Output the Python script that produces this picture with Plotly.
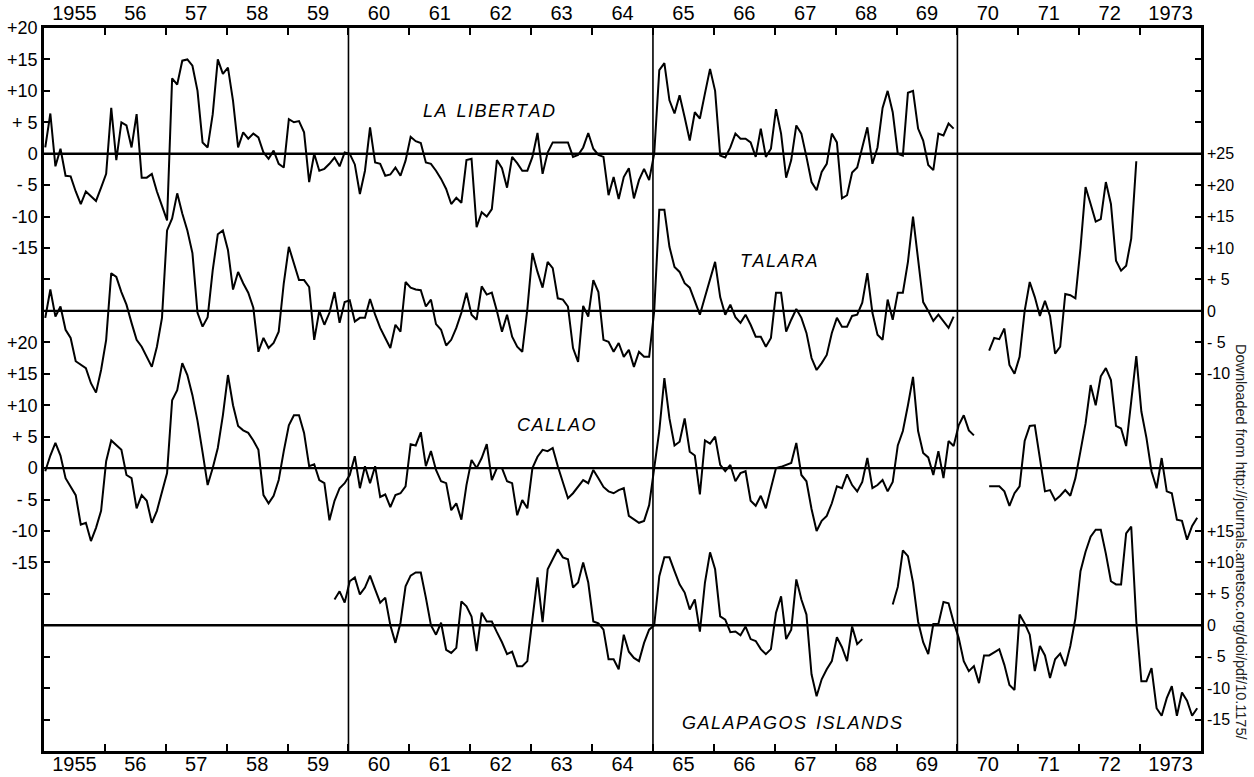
import plotly.graph_objects as go

# ---------------- data (monthly anomalies) ----------------
years = list(range(1955, 1974))
year_labels = ["1955", "56", "57", "58", "59", "60", "61", "62", "63", "64",
               "65", "66", "67", "68", "69", "70", "71", "72", "1973"]

# La Libertad, Jan 1955 - Dec 1969
la_libertad_start = (1955, 1)
la_libertad = [
    1, 6.4, -2, 0.8, -3.5, -3.6, -6, -8, -6, -6.8, -7.5, -5.4,            # 1955
    -3.2, 7.3, -1, 5, 4.5, 1, 6.3, -3.8, -3.8, -3.2, -6, -8.3,            # 1956
    -10.6, 12, 11, 14.8, 15, 14, 10, 1.8, 1, 6.3, 15, 12.7,               # 1957
    13.7, 8.4, 1, 3.4, 2.4, 3.2, 2.6, 0.2, -0.8, 0.5, -1.6, -2.2,         # 1958
    5.5, 5, 5.2, 3.4, -4.5, 0, -2.7, -2.4, -1.6, -0.6, -2, 0.2,           # 1959
    0, -1.7, -6.4, -2.7, 4.2, -1.4, -1.6, -3.5, -3.3, -2.2, -3.5, -1.1,   # 1960
    2.7, 2, 1.7, -1.4, -1.6, -2.7, -4, -5.6, -8, -7, -7.8, -1,            # 1961
    -0.8, -11.7, -9.3, -10, -8.8, -1, -2.3, -5.4, -0.5, -1.5, -2.7, -2.7, # 1962
    -0.5, 3.3, -3.2, 0.2, 1.8, 1.8, 1.8, 1.8, -0.5, -0.2, 1, 3.3,         # 1963
    0.8, -0.2, -0.5, -6.6, -3.7, -7.2, -3.7, -2.3, -7.1, -4.2, -2.4, -4.2,# 1964
    0, 13.3, 14.4, 8.5, 6.4, 9.3, 5.8, 2.1, 6.6, 5.6, 9.6, 13.5,          # 1965
    10, -0.3, -0.6, 1, 3.2, 2.4, 2.4, 1.8, -0.5, 4, -0.5, 0.8,            # 1966
    7.1, 3.2, -3.8, -1, 4.5, 3.2, -0.5, -4.5, -5.8, -2.9, -1.6, 3.2,      # 1967
    1.8, -7.1, -6.6, -3, -2.2, 1, 4.2, -1.6, 1, 7.3, 10, 6.6,             # 1968
    0, -0.3, 9.7, 10, 4, 2.1, -1.8, -2.6, 3.2, 2.9, 4.8, 4,               # 1969
]

# Talara, Jan 1955 - Dec 1969, and Jul 1970 - Dec 1972
talara_start = (1955, 1)
talara = [
    -1.1, 3.4, -0.9, 0.7, -3, -4.3, -8, -8.6, -9.1, -11.5, -13, -9.4,     # 1955
    -4.6, 6, 5.4, 3, 1, -1.9, -4.6, -5.7, -7.3, -8.9, -5.7, -1.1,         # 1956
    12.8, 14.7, 18.7, 15.5, 12.8, 9.2, -0.3, -2.5, -1, 6.5, 12.2, 12.8,   # 1957
    9.7, 3.4, 6.2, 4.4, 2.9, 0.5, -6.5, -4.3, -5.9, -5.1, -3.3, 4.4,      # 1958
    10.2, 7.6, 4.9, 4.9, 3.8, -4.6, 0, -2.2, -0.3, 3, -1.9, 1.4,          # 1959
    1.7, -1.7, -1.1, -1.1, 1.9, -0.6, -2.7, -4.3, -5.9, -2.2, -3.3, 4.6,  # 1960
    3.7, 3.4, 3.3, 0.7, 1.8, -2.1, -3, -5.5, -4.6, -2.7, -0.3, 2.9,       # 1961
    -0.6, -1.4, 3.9, 2.6, 2.9, 0, -3.3, -0.6, -4.1, -5.7, -6.5, 0.3,      # 1962
    9.2, 6.2, 3.7, 7.8, 6.8, 2, 1.8, 0.7, -5.9, -8.1, 0.8, -0.9,          # 1963
    4.9, 3, -4.6, -4.9, -6.5, -5.1, -7.3, -6.2, -8.9, -6.5, -7.3, -7.3,   # 1964
    0, 16.1, 16.1, 10.2, 7, 6.2, 4.4, 3.7, 1.5, -0.6, 2.2, 5,             # 1965
    7.8, 2.2, -0.6, 1, -1, -1.9, -0.6, -2.2, -4.1, -4.1, -5.7, -4.3,      # 1966
    2.9, 2.9, -3.3, -1.4, 0.3, -1.1, -3.5, -7.5, -9.4, -8.3, -7, -3.5,    # 1967
    -1.1, -2.5, -2.5, -0.8, -0.6, 1.3, 6, -0.3, -3.8, -4.6, 1.8, -1.4,    # 1968
    2.9, 2.9, 7.8, 15, 8, 1.4, 0, -1.6, -0.6, -1.6, -2.7, -0.9,           # 1969
]
talara_late_start = (1970, 7)
talara_late = [
    -6.3, -4.3, -4.5, -2.8, -8.6, -10,                                    # 1970
    -7.3, 0, 4.6, 2.2, -0.8, 1.6, -0.8, -6.8, -5.7, 2.7, 2.5, 2,          # 1971
    10, 19.7, 17, 14.2, 14.6, 20.5, 17, 8, 6.4, 7.2, 11.5, 23.8,          # 1972
]

# Callao, Jan 1955 - Apr 1970, and Jul 1970 - Dec 1973
callao_start = (1955, 1)
callao = [
    -0.5, 2, 4, 2, -1.6, -2.9, -4.3, -9, -8.7, -11.6, -9.5, -6.8,         # 1955
    1.1, 4.4, 3.6, 2.9, -1.1, -1.6, -6.4, -4.3, -5.2, -8.7, -6.8, -4,     # 1956
    -0.8, 10.8, 12.4, 16.7, 14.8, 11.6, 7.5, 2.5, -2.7, 0, 3.2, 8.4,      # 1957
    14.8, 10, 6.7, 6, 5.6, 4.4, 2.9, -4.3, -5.6, -4.4, -1.9, 2.7,         # 1958
    6.8, 8.4, 8.4, 5.6, 0.3, 0.6, -1.9, -2.4, -8.3, -5.2, -3.2, -2.4,     # 1959
    -1.1, 1.9, -3.2, 0.3, -2.4, 0.3, -4.6, -4.2, -6.2, -4.3, -4, -2.9,    # 1960
    3.8, 3.6, 5.7, 0.3, 2.7, -0.3, -2.1, -2.4, -6.7, -5.6, -8.2, -2.7,    # 1961
    1.3, 0, 1.6, 3.8, -1.9, 0, 0, -2.1, -2.4, -7.5, -5.1, -6.4,           # 1962
    0, 1.8, 2.9, 2.7, 3.2, 0.3, -2.1, -4.8, -4, -2.9, -1.9, -2.4,         # 1963
    -0.3, -1.6, -3, -3.7, -4, -3.5, -3.2, -7.6, -8.2, -8.7, -8.4, -5.9,   # 1964
    0, 5.9, 14.3, 7.9, 3.6, 4.2, 7.9, 2.6, 2, -4.2, 4.4, 3.9,             # 1965
    5, 0.5, -0.5, 0.5, -2.1, -0.8, -0.5, -5.2, -6, -4.4, -6.4, -3.2,      # 1966
    0, 0.2, 0.5, 0.8, 4, -1.1, -2.1, -6.5, -10, -8.4, -7.6, -5.6,         # 1967
    -2.9, -3.2, -1, -2.7, -3.7, -2.2, 1.6, -3.2, -2.7, -1.9, -3.7, -2.2,  # 1968
    3.6, 5.9, 10, 14.5, 5.9, 2.4, 1.7, -1.1, 2.7, -1.6, 4.3, 3.5,         # 1969
    6.8, 8.4, 6, 5.2,                                                     # 1970
]
callao_late_start = (1970, 7)
callao_late = [
    -2.9, -2.9, -2.9, -3.7, -6, -4,                                       # 1970
    -2.9, 4.3, 6.7, 6.8, 1.6, -3.7, -3.5, -5.1, -4.4, -3.5, -4.4, -1.6,   # 1971
    2.7, 7.1, 13.2, 10, 14.6, 15.9, 14, 6.7, 6.3, 3.5, 10.6, 17.8,        # 1972
    9, 4.8, -0.5, -3.2, 1.6, -3.7, -4, -8.2, -8.4, -11.4, -9.2, -7.9,     # 1973
]

# Galapagos Islands, Oct 1959 - Jun 1968, and Dec 1968 - Dec 1973
galapagos_start = (1959, 10)
galapagos = [
    4.1, 5.4, 3.6,                                                        # 1959
    7, 7.6, 4.9, 6, 7.9, 5.7, 3.6, 4.4, 0, -2.8, 0.4, 6.2,                # 1960
    7.9, 8.4, 8.4, 4.4, 0, -1.5, 0.4, -3.9, -4.4, -3.6, 3.8, 3,           # 1961
    1.4, -4.1, 2, 0.6, 0.6, -1.1, -2.7, -4.6, -4.2, -6.5, -6.5, -5.7,     # 1962
    0.5, 7.6, 0.5, 8.9, 10.5, 12.1, 10.8, 10.5, 6, 6.8, 10, 6.8,          # 1963
    0.6, 0.3, -0.7, -5.4, -5.4, -7, -1.5, -4.2, -5.2, -5.7, -2.8, -0.7,   # 1964
    0, 7.8, 10.8, 10.8, 8.6, 6.5, 5.2, 2.5, 4.1, -1, 6.8, 11.6,           # 1965
    8.9, 1.4, 0.9, -1.1, -1, -1.6, -0.2, -2.2, -2.5, -3.8, -4.6, -3.8,    # 1966
    2, 4.6, -2.2, -0.7, 7.3, 4.1, 1.7, -7.8, -11.3, -8.6, -7, -5.7,       # 1967
    -1.9, -3.5, -5.7, -0.2, -3, -2.2,                                     # 1968
]
galapagos_late_start = (1968, 12)
galapagos_late = [
    3.3,                                                                  # 1968
    6.1, 11.9, 11, 6.8, 0.6, -2.7, -4.6, 0.2, 0.2, 3.7, 3.5, 0.5,         # 1969
    -2, -5.7, -7.3, -6.5, -9.2, -4.8, -4.8, -4.3, -3.8, -6.3, -9.5, -10.3,# 1970
    1.7, 0.3, -1.5, -7.3, -3.3, -4.8, -8.4, -5.4, -4.5, -6.5, -3.3, 1.1,  # 1971
    8.6, 11.7, 14.1, 15.2, 15.2, 11.4, 7, 6.5, 6.5, 14.6, 15.7, 0.6,      # 1972
    -8.9, -8.9, -6.8, -13.2, -14.4, -11.6, -9.7, -14.4, -10.7, -12, -14.4, -13.2,  # 1973
]

station_names = ["LA LIBERTAD", "TALARA", "CALLAO", "GALAPAGOS ISLANDS"]

# left-axis tick labels (value on shared stacked axis -> label)
left_ticks = {20: "+20", 15: "+15", 10: "+10", 5: "+ 5", 0: "0", -5: "- 5", -10: "-10", -15: "-15",
              -30: "+20", -35: "+15", -40: "+10", -45: "+ 5", -50: "0", -55: "- 5", -60: "-10", -65: "-15"}
right_ticks = {0: "+25", -5: "+20", -10: "+15", -15: "+10", -20: "+ 5", -25: "0", -30: "- 5", -35: "-10",
               -60: "+15", -65: "+10", -70: "+ 5", -75: "0", -80: "- 5", -85: "-10", -90: "-15"}

# ---------------- layout / styling ----------------
offsets = {"LA LIBERTAD": 0, "TALARA": -25, "CALLAO": -50, "GALAPAGOS ISLANDS": -75}
Y_RANGE = [-95, 20]
X_RANGE = [1955, 1974]
FONT = "Liberation Sans"


def month_x(start, n):
    y0, m0 = start
    return [y0 + (m0 - 1 + i + 0.25) / 12.0 for i in range(n)]


segments = [
    ("LA LIBERTAD", la_libertad_start, la_libertad),
    ("TALARA", talara_start, talara),
    ("TALARA", talara_late_start, talara_late),
    ("CALLAO", callao_start, callao),
    ("CALLAO", callao_late_start, callao_late),
    ("GALAPAGOS ISLANDS", galapagos_start, galapagos),
    ("GALAPAGOS ISLANDS", galapagos_late_start, galapagos_late),
]

fig = go.Figure()
for name, start, vals in segments:
    off = offsets[name]
    fig.add_trace(go.Scatter(
        x=month_x(start, len(vals)), y=[v + off for v in vals],
        mode="lines", line=dict(color="black", width=2),
        hoverinfo="skip", showlegend=False, name=name))

# invisible traces on the secondary axes so they render
for xa, ya in [("x2", "y2"), ("x3", "y"), ("x4", "y")]:
    fig.add_trace(go.Scatter(x=[X_RANGE[0]], y=[Y_RANGE[0]], xaxis=xa, yaxis=ya,
                             mode="markers", marker=dict(opacity=0), hoverinfo="skip",
                             showlegend=False))

# zero lines of each station and the 5-year dividers
for name in station_names:
    fig.add_shape(type="line", xref="paper", yref="y", x0=0, x1=1,
                  y0=offsets[name], y1=offsets[name], line=dict(color="black", width=2.4))
for yr in [1960, 1965, 1970]:
    fig.add_shape(type="line", xref="x", yref="paper", x0=yr, x1=yr, y0=0, y1=1,
                  line=dict(color="black", width=1.6))

# station labels
label_pos = {"LA LIBERTAD": (1962.3, 6.8), "TALARA": (1967.07, -17.0),
             "CALLAO": (1963.42, -43.2), "GALAPAGOS ISLANDS": (1967.28, -90.5)}
for name in station_names:
    lx, ly = label_pos[name]
    fig.add_annotation(x=lx, y=ly, xref="x", yref="y", showarrow=False,
                       text="<i>" + "&#8202;".join(list(name)).replace("&#8202; &#8202;", "&nbsp;&nbsp;") + "</i>",
                       font=dict(family=FONT, size=18, color="black"))

# scan watermark along the right edge (pixel x≈1241, starting at y≈342)
fig.add_annotation(xref="paper", yref="paper", x=(1241 - 44) / 1157, y=(751 - 342) / 723,
                   xanchor="center", yanchor="top",
                   text="Downloaded from http://journals.ametsoc.org/doi/pdf/10.1175/",
                   textangle=90, showarrow=False,
                   font=dict(family="Liberation Sans", size=14.5, color="#222222"))

xtickvals = [y + 0.5 for y in years]
boundaries = list(range(1956, 1974))
left_vals = list(range(-90, 21, 5))
right_vals = list(range(-90, 16, 5))

label_axis = dict(range=X_RANGE, tickmode="array", tickvals=xtickvals, ticktext=year_labels,
                  ticks="", showgrid=False, zeroline=False, showline=True, linecolor="black",
                  linewidth=2.5, automargin=False,
                  tickfont=dict(family=FONT, size=20, color="black"))
tick_axis = dict(range=X_RANGE, tickmode="array", tickvals=boundaries, ticks="inside",
                 ticklen=7, tickwidth=1.6, tickcolor="black", showticklabels=False,
                 showgrid=False, zeroline=False, showline=False, automargin=False,
                 overlaying="x", anchor="y")

fig.update_layout(
    width=1254, height=777,
    margin=dict(l=44, r=53, t=28, b=26, autoexpand=False),
    paper_bgcolor="white", plot_bgcolor="white", showlegend=False,
    xaxis=dict(label_axis, ticklabelstandoff=-7),
    xaxis2=dict(label_axis, overlaying="x", side="top", anchor="y", ticklabelstandoff=-3),
    xaxis3=dict(tick_axis, side="bottom"),
    xaxis4=dict(tick_axis, side="top"),
    yaxis=dict(range=Y_RANGE, tickmode="array", tickvals=left_vals,
               ticktext=[left_ticks.get(v, "") for v in left_vals],
               ticks="inside", ticklen=6, tickwidth=1.5, tickcolor="black",
               showgrid=False, zeroline=False, showline=True, linecolor="black", linewidth=2.5,
               automargin=False, tickfont=dict(family=FONT, size=18, color="black")),
    yaxis2=dict(range=Y_RANGE, overlaying="y", side="right", anchor="x", tickmode="array",
                tickvals=right_vals, ticktext=[right_ticks.get(v, "") for v in right_vals],
                ticks="inside", ticklen=6, tickwidth=1.5, tickcolor="black",
                showgrid=False, zeroline=False, showline=True, linecolor="black", linewidth=2.5,
                automargin=False, tickfont=dict(family=FONT, size=16, color="black")),
)

# remove the default page margin so the figure sits at the window's top-left corner
fig.write_html("out.html", config={"displayModeBar": False},
               post_script="document.body.style.margin='0px';document.body.style.overflow='hidden';")
